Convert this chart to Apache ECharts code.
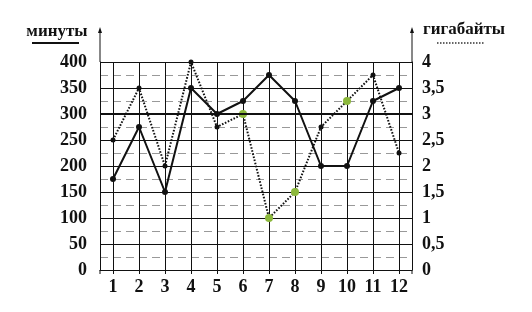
<!DOCTYPE html>
<html><head><meta charset="utf-8">
<script src="https://cdn.jsdelivr.net/npm/echarts@6/dist/echarts.min.js"></script>
<style>html,body{margin:0;padding:0;background:#fff}#c{width:532px;height:312px}</style>
</head><body><div id="c"></div>
<script>
const months = ['1','2','3','4','5','6','7','8','9','10','11','12'];
const minutes = [175, 275, 150, 350, 300, 325, 375, 325, 200, 200, 325, 350];
const gigabytes = [2.5, 3.5, 2, 4, 2.75, 3, 1, 1.5, 2.75, 3.25, 3.75, 2.25];
const greenMonths = ['6', '7', '8', '10'];
const minutesTicks = [0, 400, 50];
const gbTicks = [0, 4, 0.5];
const refMinutes = 300;
const leftTitle = 'минуты';
const rightTitle = 'гигабайты';

const G = {left: 100, right: 120, top: 62, bottom: 42};
const W = 532, H = 312;
const xL = G.left, xR = W - G.right, yT = G.top, yB = H - G.bottom;
const font = '"Liberation Serif", "DejaVu Serif", serif';

const chart = echarts.init(document.getElementById('c'), null, {renderer: 'canvas'});
const gbData = gigabytes.map((v, i) => greenMonths.includes(months[i])
  ? {value: v, symbolSize: 8, itemStyle: {color: '#8cb83c'}}
  : v);

chart.setOption({
  animation: false,
  backgroundColor: '#fff',
  grid: {left: G.left, right: G.right, top: G.top, bottom: G.bottom, containLabel: false},
  xAxis: {
    type: 'category', data: months, boundaryGap: true,
    axisLine: {show: true, lineStyle: {color: '#111', width: 1}},
    axisTick: {show: true, alignWithLabel: true, length: 4, lineStyle: {color: '#111'}},
    axisLabel: {color: '#111', fontFamily: font, fontSize: 18, fontWeight: 'bold', margin: 8},
    splitLine: {show: true, alignWithLabel: true, lineStyle: {color: '#111', width: 1}}
  },
  yAxis: [{
    type: 'value', min: minutesTicks[0], max: minutesTicks[1], interval: minutesTicks[2],
    axisLine: {show: true, lineStyle: {color: '#111', width: 1}},
    axisTick: {show: false},
    axisLabel: {color: '#111', fontFamily: font, fontSize: 18, fontWeight: 'bold', margin: 13},
    splitLine: {show: true, lineStyle: {color: '#111', width: 1}},
    minorTick: {show: false, splitNumber: 2},
    minorSplitLine: {show: true, lineStyle: {color: '#999', width: 1, type: [8, 5]}}
  }, {
    type: 'value', min: gbTicks[0], max: gbTicks[1], interval: gbTicks[2], position: 'right',
    axisLine: {show: true, lineStyle: {color: '#111', width: 1}},
    axisTick: {show: false},
    axisLabel: {color: '#111', fontFamily: font, fontSize: 18, fontWeight: 'bold', margin: 10,
      formatter: v => String(v).replace('.', ',')},
    splitLine: {show: false}
  }],
  series: [{
    type: 'line', yAxisIndex: 0, data: minutes, z: 5,
    lineStyle: {color: '#111', width: 2},
    symbol: 'circle', symbolSize: 6, itemStyle: {color: '#111'},
    markLine: {silent: true, symbol: 'none', label: {show: false},
      lineStyle: {color: '#111', width: 2, type: 'solid'},
      data: [{yAxis: refMinutes}]}
  }, {
    type: 'line', yAxisIndex: 1, data: gbData, z: 4,
    lineStyle: {color: '#111', width: 2, type: [1.6, 1.6]},
    symbol: 'circle', symbolSize: 5, itemStyle: {color: '#111'}
  }],
  graphic: [
    {type: 'line', shape: {x1: xL, y1: yT, x2: xL, y2: 30}, style: {stroke: '#111', lineWidth: 1}},
    {type: 'polygon', shape: {points: [[xL - 2, 33], [xL + 2, 33], [xL, 27]]}, style: {fill: '#111'}},
    {type: 'line', shape: {x1: xR, y1: yT, x2: xR, y2: 30}, style: {stroke: '#111', lineWidth: 1}},
    {type: 'polygon', shape: {points: [[xR - 2, 33], [xR + 2, 33], [xR, 27]]}, style: {fill: '#111'}},
    {type: 'line', shape: {x1: xL, y1: yB, x2: xL, y2: yB + 4}, style: {stroke: '#111', lineWidth: 1}},
    {type: 'line', shape: {x1: xR, y1: yB, x2: xR, y2: yB + 4}, style: {stroke: '#111', lineWidth: 1}},
    {type: 'text', x: 57, y: 32, style: {text: leftTitle, font: 'bold 17px ' + font, fill: '#111', align: 'center', verticalAlign: 'middle'}},
    {type: 'line', shape: {x1: 32, y1: 43, x2: 79, y2: 43}, style: {stroke: '#111', lineWidth: 2}},
    {type: 'text', x: 464, y: 30, style: {text: rightTitle, font: 'bold 17px ' + font, fill: '#111', align: 'center', verticalAlign: 'middle'}},
    {type: 'line', shape: {x1: 437, y1: 43, x2: 484, y2: 43}, style: {stroke: '#333', lineWidth: 1.5, lineDash: [1.5, 1.5]}}
  ]
});
</script></body></html>
